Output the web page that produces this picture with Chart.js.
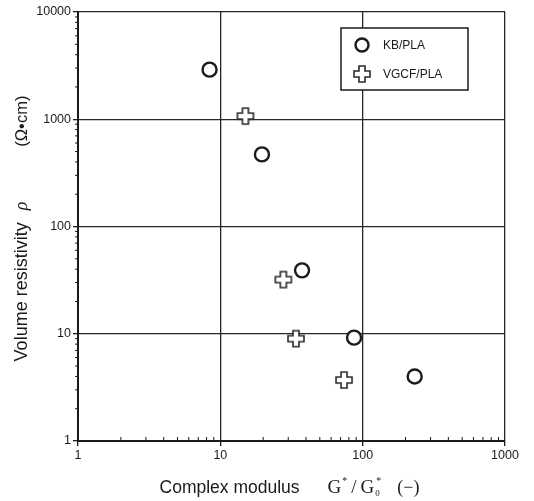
<!DOCTYPE html>
<html>
<head>
<meta charset="utf-8">
<script src="https://cdn.jsdelivr.net/npm/chart.js@4.4.1/dist/chart.umd.min.js"></script>
<style>
  html, body { margin: 0; padding: 0; background: #fff; }
</style>
</head>
<body>
<canvas id="resChart" width="534" height="501"></canvas>
<script>
// data (log-log)
const kbX = [8.4, 19.6, 37.5, 87, 232];
const kbY = [2900, 470, 39, 9.2, 4];
const vgcfX = [15, 27.7, 34, 74];
const vgcfY = [1070, 32, 9, 3.7];
const seriesLabels = ['KB/PLA', 'VGCF/PLA'];
const xTicks = [1, 10, 100, 1000];
const yTicks = [1, 10, 100, 1000, 10000];

const SANS = '"Liberation Sans", Arial, sans-serif';
const SERIF = '"Liberation Serif", "Times New Roman", serif';
const INK = '#1a1a1a';

// hollow plus marker
function makePlus() {
  const c = document.createElement('canvas');
  c.width = 20; c.height = 20;
  const g = c.getContext('2d');
  const m = 10, a = 3, e = 8;
  g.beginPath();
  g.moveTo(m - a, m - e); g.lineTo(m + a, m - e); g.lineTo(m + a, m - a);
  g.lineTo(m + e, m - a); g.lineTo(m + e, m + a); g.lineTo(m + a, m + a);
  g.lineTo(m + a, m + e); g.lineTo(m - a, m + e); g.lineTo(m - a, m + a);
  g.lineTo(m - e, m + a); g.lineTo(m - e, m - a); g.lineTo(m - a, m - a);
  g.closePath();
  g.fillStyle = '#fff';
  g.fill();
  g.lineWidth = 1.6;
  g.strokeStyle = '#2a2a2a';
  g.stroke();
  return c;
}
const plusImg = makePlus();

function toPoints(xs, ys) {
  return xs.map((x, i) => ({ x, y: ys[i] }));
}

// minor ticks: inward on the bottom axis, outward on the left axis
const minorTicks = {
  id: 'minorTicks',
  afterDraw(chart) {
    const { ctx, chartArea: ca, scales } = chart;
    ctx.save();
    ctx.strokeStyle = INK;
    ctx.lineWidth = 1;
    for (let d = 1; d < 1000; d *= 10) {
      for (let k = 2; k <= 9; k++) {
        const px = scales.x.getPixelForValue(d * k);
        ctx.beginPath();
        ctx.moveTo(px, ca.bottom);
        ctx.lineTo(px, ca.bottom - 4);
        ctx.stroke();
      }
    }
    for (let d = 1; d < 10000; d *= 10) {
      for (let k = 2; k <= 9; k++) {
        const py = scales.y.getPixelForValue(d * k);
        ctx.beginPath();
        ctx.moveTo(ca.left, py);
        ctx.lineTo(ca.left - 3, py);
        ctx.stroke();
      }
    }
    ctx.restore();
  }
};

// boxed legend in the upper right of the plot
const boxLegend = {
  id: 'boxLegend',
  afterDraw(chart) {
    const { ctx, chartArea: ca } = chart;
    const w = 127, h = 62;
    const x0 = ca.right - 37 - w, y0 = ca.top + 16;
    ctx.save();
    ctx.fillStyle = '#fff';
    ctx.fillRect(x0, y0, w, h);
    ctx.strokeStyle = INK;
    ctx.lineWidth = 1.5;
    ctx.strokeRect(x0, y0, w, h);

    const mx = x0 + 21;
    const r1 = y0 + 17, r2 = y0 + 46;
    ctx.beginPath();
    ctx.arc(mx, r1, 6.5, 0, Math.PI * 2);
    ctx.lineWidth = 2.4;
    ctx.stroke();
    ctx.drawImage(plusImg, mx - 10, r2 - 10);

    ctx.fillStyle = INK;
    ctx.font = '12px ' + SANS;
    ctx.textBaseline = 'middle';
    ctx.fillText(seriesLabels[0], x0 + 42, r1 + 1);
    ctx.fillText(seriesLabels[1], x0 + 42, r2 + 1);
    ctx.restore();
  }
};

// axis titles with mixed fonts (sub/superscripts)
function runsWidth(ctx, runs) {
  let w = 0;
  runs.forEach(r => {
    ctx.font = r.font;
    w += (r.gap || 0);
    if (!r.stay) w += ctx.measureText(r.t).width;
  });
  return w;
}
function drawRuns(ctx, runs, x, y) {
  runs.forEach(r => {
    ctx.font = r.font;
    x += (r.gap || 0);
    ctx.fillText(r.t, x, y + (r.dy || 0));
    if (!r.stay) x += ctx.measureText(r.t).width;
  });
}

const xTitleRuns = [
  { t: 'Complex modulus', font: '17.5px ' + SANS },
  { t: 'G', font: '19px ' + SERIF, gap: 28 },
  { t: '*', font: '10px ' + SERIF, dy: -9, gap: 1 },
  { t: '/', font: '19px ' + SERIF, gap: 4 },
  { t: 'G', font: '19px ' + SERIF, gap: 4 },
  { t: '0', font: '9px ' + SERIF, dy: 3, gap: 1, stay: true },
  { t: '*', font: '10px ' + SERIF, dy: -9, gap: 1 },
  { t: '(\u2212)', font: '18px ' + SERIF, gap: 16 }
];
const yTitleRuns = [
  { t: 'Volume resistivity', font: '18px ' + SANS },
  { t: '\u03c1', font: 'italic 18px ' + SERIF, gap: 12 },
  { t: '(\u03a9\u2022cm)', font: '16.5px ' + SANS, gap: 55 }
];

const axisTitles = {
  id: 'axisTitles',
  afterDraw(chart) {
    const { ctx, chartArea: ca } = chart;
    ctx.save();
    ctx.fillStyle = INK;
    ctx.textBaseline = 'alphabetic';
    const cx = (ca.left + ca.right) / 2 - 2;
    const xw = runsWidth(ctx, xTitleRuns);
    drawRuns(ctx, xTitleRuns, cx - xw / 2, ca.bottom + 52);

    const cy = (ca.top + ca.bottom) / 2 + 2;
    const yw = runsWidth(ctx, yTitleRuns);
    ctx.translate(27, cy);
    ctx.rotate(-Math.PI / 2);
    drawRuns(ctx, yTitleRuns, -yw / 2, 0);
    ctx.restore();
  }
};

function logAxis(ticksList, fixSize) {
  return {
    type: 'logarithmic',
    min: ticksList[0],
    max: ticksList[ticksList.length - 1],
    afterBuildTicks: s => { s.ticks = ticksList.map(v => ({ value: v })); },
    afterFit: fixSize,
    ticks: {
      color: INK,
      font: { family: SANS, size: 12.5 },
      autoSkip: false,
      maxRotation: 0,
      padding: 2,
      callback: v => String(v)
    },
    grid: { color: '#262626', lineWidth: 1.3, tickLength: 5, tickColor: INK },
    border: { color: INK, width: 2 }
  };
}

function initChart() {
  const ctx = document.getElementById('resChart').getContext('2d');
  new Chart(ctx, {
    type: 'scatter',
    data: {
      datasets: [
        {
          label: seriesLabels[0],
          data: toPoints(kbX, kbY),
          pointStyle: 'circle',
          pointRadius: 7,
          borderWidth: 2.4,
          borderColor: INK,
          backgroundColor: '#fff'
        },
        {
          label: seriesLabels[1],
          data: toPoints(vgcfX, vgcfY),
          pointStyle: plusImg,
          pointRadius: 9
        }
      ]
    },
    options: {
      responsive: false,
      animation: false,
      layout: { padding: { top: 12, right: 29, left: 0, bottom: 0 } },
      plugins: {
        legend: { display: false },
        tooltip: { enabled: false }
      },
      scales: {
        x: logAxis(xTicks, s => { s.height = 60; }),
        y: logAxis(yTicks, s => { s.width = 78; })
      }
    },
    plugins: [minorTicks, boxLegend, axisTitles]
  });
}

document.addEventListener('DOMContentLoaded', initChart);
</script>
</body>
</html>
